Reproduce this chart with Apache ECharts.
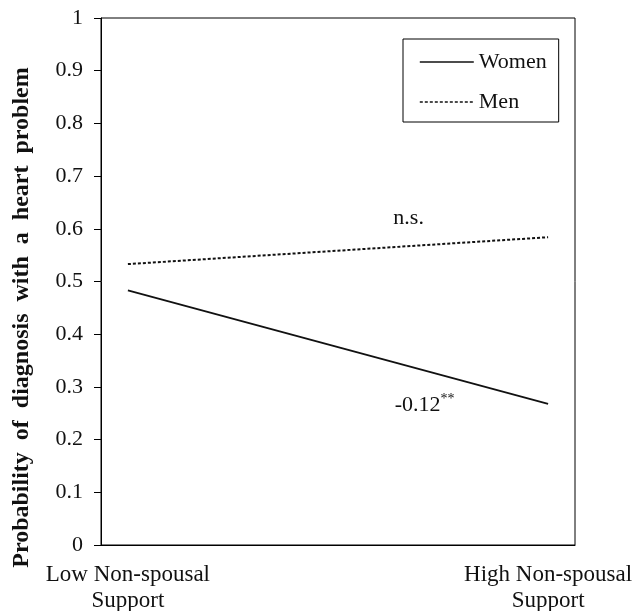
<!DOCTYPE html>
<html>
<head>
<meta charset="utf-8">
<script src="https://cdn.jsdelivr.net/npm/echarts@6/dist/echarts.min.js"></script>
<style>
  html, body { margin: 0; padding: 0; background: #fff; }
  #chart { width: 635px; height: 611px; }
</style>
</head>
<body>
<div id="chart"></div>
<script>
// support level: 0 = low, 1 = high
var supportLevels = [0, 1];
var supportLabels = ["Low Non-spousal\nSupport", "High Non-spousal\nSupport"];
var women = [0.483, 0.268];
var men = [0.533, 0.584];
var yTicks = [0, 0.1, 0.2, 0.3, 0.4, 0.5, 0.6, 0.7, 0.8, 0.9, 1];

var serif = "Liberation Serif";

function pairs(xs, ys) {
    var out = [];
    for (var i = 0; i < xs.length; i++) out.push([xs[i], ys[i]]);
    return out;
}

var chart = echarts.init(document.getElementById("chart"));
var option = {
    animation: false,
    backgroundColor: "#fff",
    grid: {
        left: 101, right: 60, top: 18, bottom: 66,
        outerBoundsMode: "none",
        containLabel: false,
        show: true, borderColor: "#000", borderWidth: 1
    },
    legend: {
        left: 403, top: 39,
        orient: "vertical",
        padding: [12, 12, 9, 16],
        itemGap: 18,
        itemWidth: 54, itemHeight: 16,
        backgroundColor: "#fff",
        borderColor: "#000", borderWidth: 1,
        // hide the marker dot, keep only the line sample
        itemStyle: { color: "transparent", borderColor: "transparent", borderWidth: 0 },
        lineStyle: { width: 1.6 },
        textStyle: { fontFamily: serif, fontSize: 22, color: "#111" },
        data: ["Women", "Men"]
    },
    xAxis: {
        type: "value",
        min: -0.064, max: 1.064,
        splitLine: { show: false },
        axisLine: { show: true, onZero: false, lineStyle: { color: "#000", width: 1 } },
        axisTick: { show: false },
        axisLabel: {
            customValues: supportLevels,
            formatter: function (v) { return supportLabels[Math.round(v)]; },
            fontFamily: serif, fontSize: 23, color: "#111",
            lineHeight: 26, margin: 17
        }
    },
    yAxis: {
        type: "value",
        min: 0, max: 1, interval: 0.1,
        splitLine: { show: false },
        axisLine: { show: true, onZero: false, lineStyle: { color: "#000", width: 1 } },
        axisTick: { show: true, inside: false, length: 7, lineStyle: { color: "#000" } },
        axisLabel: {
            fontFamily: serif, fontSize: 22, color: "#111", margin: 18,
            formatter: function (v) { return String(Math.round(v * 10) / 10); }
        },
        name: "Probability  of  diagnosis  with  a  heart  problem",
        nameLocation: "middle",
        nameGap: 67,
        nameTextStyle: {
            fontFamily: serif, fontSize: 24, fontWeight: "bold", color: "#111",
            padding: [0, 72, 0, 0]
        }
    },
    series: [
        {
            name: "Women",
            type: "line",
            data: pairs(supportLevels, women),
            symbol: "none",
            lineStyle: { color: "#111", width: 1.8, type: "solid" },
            itemStyle: { color: "#111" },
            markPoint: {
                symbol: "circle", symbolSize: 0,
                label: {
                    show: true,
                    formatter: "-0.12{s|**}",
                    fontFamily: serif, fontSize: 22, color: "#111",
                    rich: { s: { fontFamily: serif, fontSize: 14, verticalAlign: "top", padding: [0, 0, 10, 0] } }
                },
                data: [{ coord: [0.706, 0.266] }]
            }
        },
        {
            name: "Men",
            type: "line",
            data: pairs(supportLevels, men),
            symbol: "none",
            lineStyle: { color: "#111", width: 2, type: [3, 2] },
            itemStyle: { color: "#111" },
            markPoint: {
                symbol: "circle", symbolSize: 0,
                label: {
                    show: true, formatter: "n.s.",
                    fontFamily: serif, fontSize: 22, color: "#111"
                },
                data: [{ coord: [0.668, 0.62] }]
            }
        }
    ]
};
chart.setOption(option);
</script>
</body>
</html>
